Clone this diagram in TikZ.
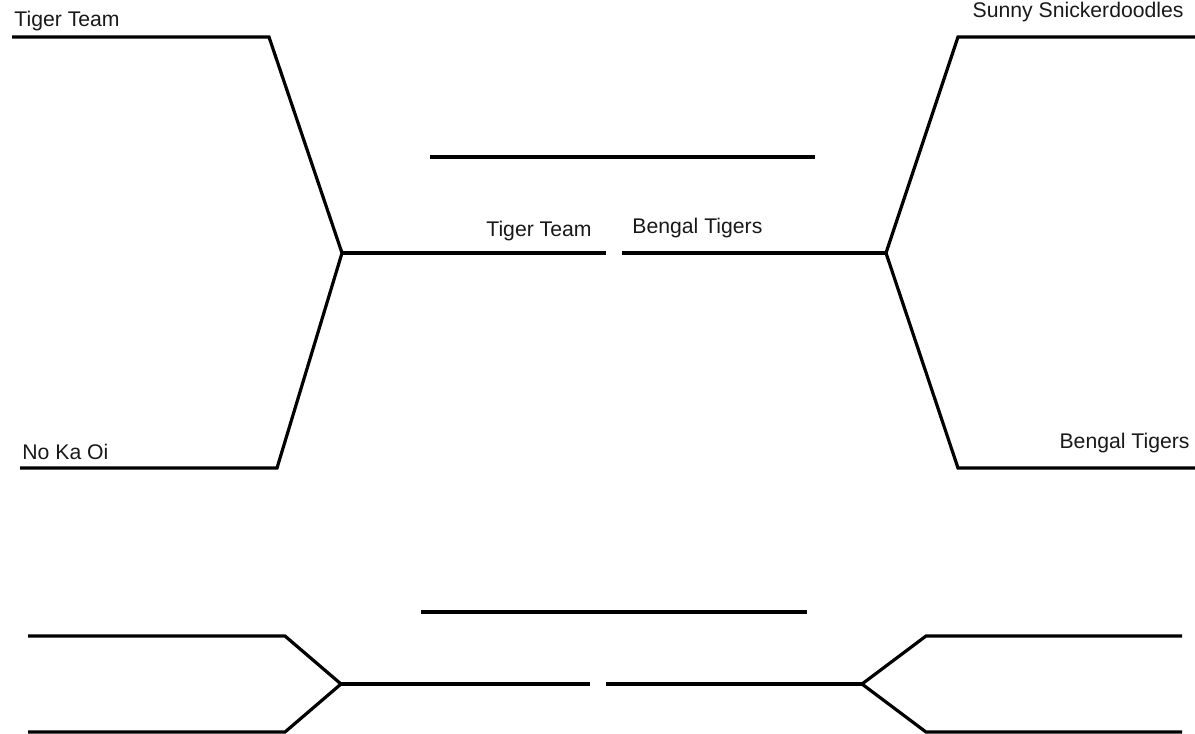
\documentclass[tikz,border=0pt]{standalone}
\usepackage{fontspec}
\setmainfont{Liberation Sans}
\begin{document}
\begin{tikzpicture}[x=0.5pt,y=-0.5pt,
    bracket/.style={line width=1.6pt,line join=miter},
    team/.style={inner sep=0pt,font=\fontsize{10.6}{12}\selectfont,text=black!90}]
  \useasboundingbox (0,0) rectangle (1195,734);

  % Upper bracket, left side
  \coordinate (ulTop) at (12,37);
  \coordinate (ulTopEnd) at (269,37);
  \coordinate (ulJoin) at (342,253);
  \coordinate (ulOut) at (606,253);
  \coordinate (ulBotEnd) at (277,468);
  \coordinate (ulBot) at (20,468);
  \draw[bracket] (ulTop) -- (ulTopEnd) -- (ulJoin) -- (ulBotEnd) -- (ulBot);
  \draw[bracket] (ulJoin) -- (ulOut);

  % Upper bracket, right side
  \coordinate (urTop) at (1195,37);
  \coordinate (urTopEnd) at (958,37);
  \coordinate (urJoin) at (886,253);
  \coordinate (urOut) at (622,253);
  \coordinate (urBotEnd) at (958,468);
  \coordinate (urBot) at (1195,468);
  \draw[bracket] (urTop) -- (urTopEnd) -- (urJoin) -- (urBotEnd) -- (urBot);
  \draw[bracket] (urJoin) -- (urOut);

  % Upper final line
  \coordinate (ufL) at (430,157);
  \coordinate (ufR) at (815,157);
  \draw[bracket] (ufL) -- (ufR);

  % Team names
  \node[team,anchor=base west] (teamTL) at (14,26) {Tiger Team};
  \node[team,anchor=base west] (teamBL) at (22,459) {No Ka Oi};
  \node[team,anchor=base east] (teamTR) at (1184,17) {Sunny Snickerdoodles};
  \node[team,anchor=base east] (teamBR) at (1190,448) {Bengal Tigers};
  \node[team,anchor=base east] (winL) at (592,236) {Tiger Team};
  \node[team,anchor=base west] (winR) at (632,233) {Bengal Tigers};

  % Lower bracket, left side
  \coordinate (llTop) at (28,636);
  \coordinate (llTopEnd) at (285,636);
  \coordinate (llJoin) at (341,684);
  \coordinate (llOut) at (590,684);
  \coordinate (llBotEnd) at (285,732);
  \coordinate (llBot) at (28,732);
  \draw[bracket] (llTop) -- (llTopEnd) -- (llJoin) -- (llBotEnd) -- (llBot);
  \draw[bracket] (llJoin) -- (llOut);

  % Lower bracket, right side
  \coordinate (lrTop) at (1182,636);
  \coordinate (lrTopEnd) at (926,636);
  \coordinate (lrJoin) at (862,684);
  \coordinate (lrOut) at (606,684);
  \coordinate (lrBotEnd) at (926,732);
  \coordinate (lrBot) at (1182,732);
  \draw[bracket] (lrTop) -- (lrTopEnd) -- (lrJoin) -- (lrBotEnd) -- (lrBot);
  \draw[bracket] (lrJoin) -- (lrOut);

  % Lower final line
  \coordinate (lfL) at (421,612);
  \coordinate (lfR) at (807,612);
  \draw[bracket] (lfL) -- (lfR);
\end{tikzpicture}
\end{document}
